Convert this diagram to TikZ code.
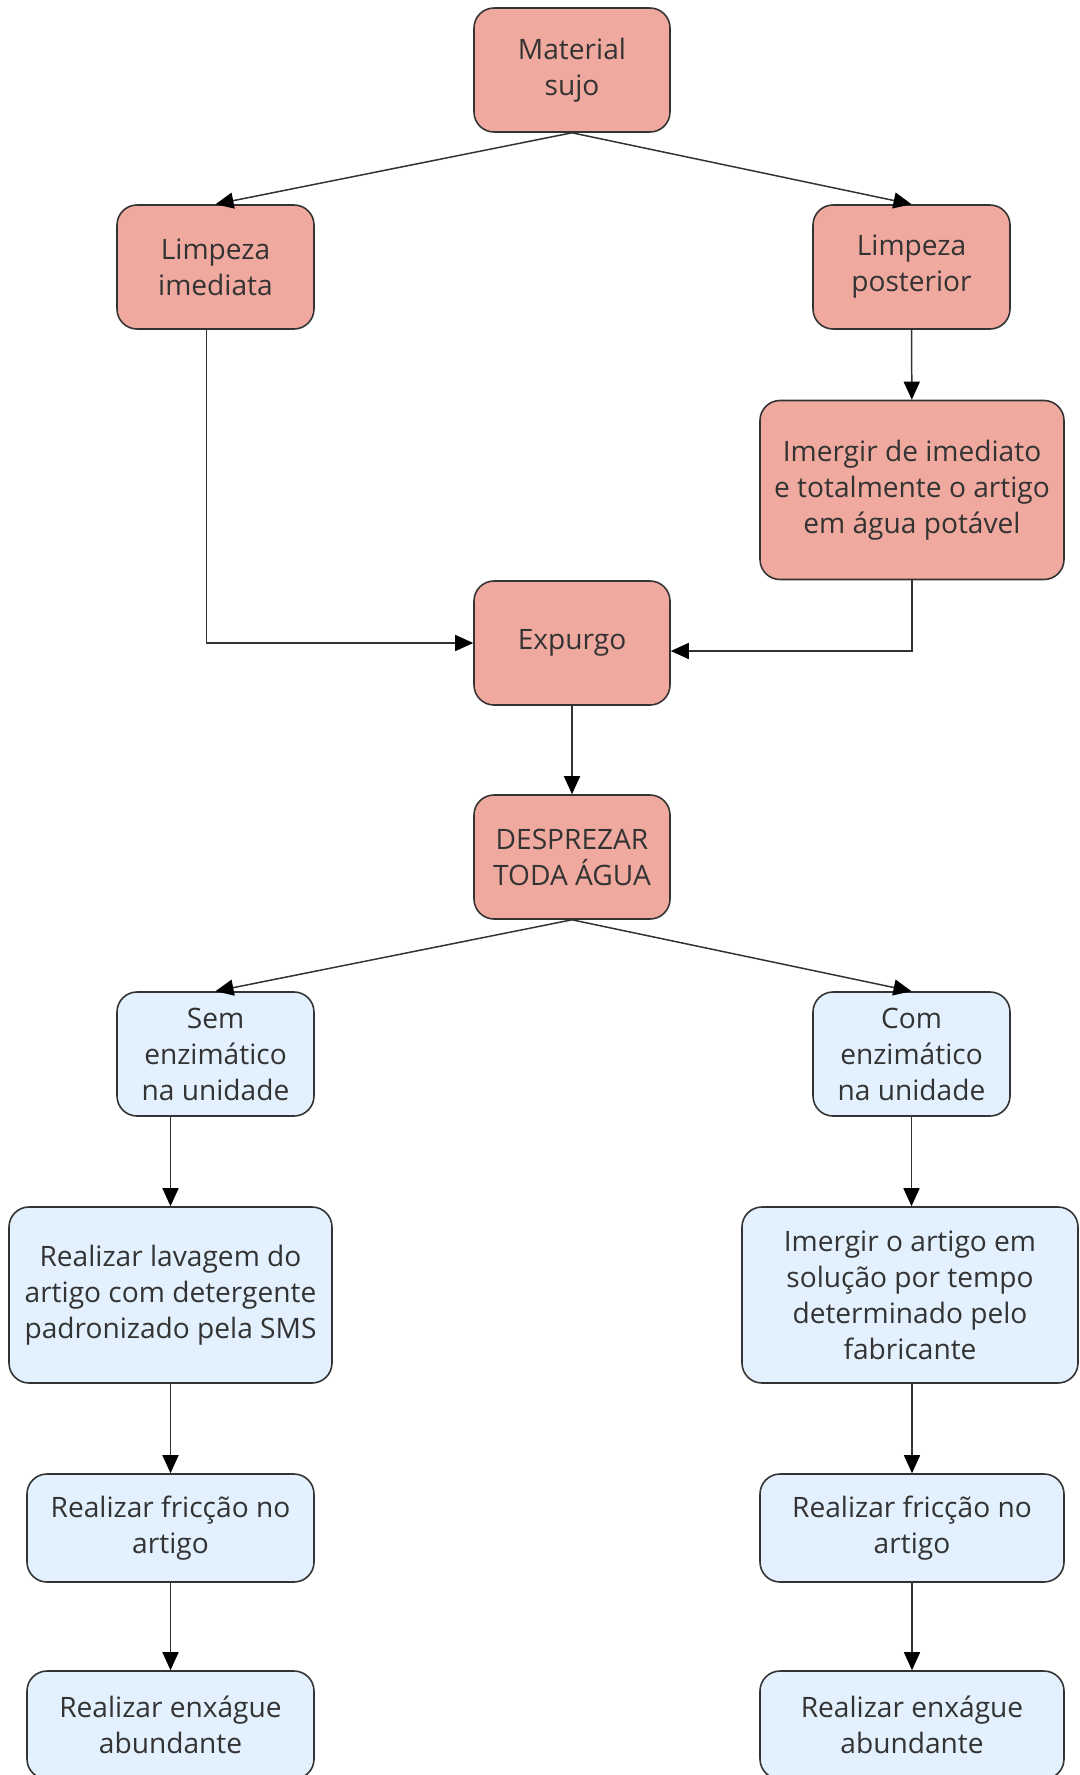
\documentclass[tikz,border=0pt]{standalone}
\usepackage{fontspec}
\setmainfont{Open Sans}
\usepackage{tikz}
\usetikzlibrary{arrows.meta}

\definecolor{salmao}{RGB}{240,169,159}
\definecolor{azulclaro}{RGB}{227,240,253}
\definecolor{borda}{RGB}{51,51,51}

\begin{document}
\begin{tikzpicture}[
  caixa/.style={draw=borda, line width=0.9pt, rounded corners=0.4cm, align=center,
    text=borda, font=\fontsize{16}{20.5}\selectfont, inner sep=0pt},
  rosa/.style={caixa, fill=salmao},
  azul/.style={caixa, fill=azulclaro},
  seta/.style={draw=borda, line width=0.85pt, -{Triangle[length=0.36cm,width=0.32cm,color=black]}}
]
\useasboundingbox (0,0) rectangle (21.6,-35.5);

% etapas iniciais
\node[rosa, minimum width=3.92cm, minimum height=2.48cm] (mat) at (11.44,-1.40) {Material\\sujo};
\node[rosa, minimum width=3.94cm, minimum height=2.48cm] (limi) at (4.31,-5.34) {Limpeza\\imediata};
\node[rosa, minimum width=3.94cm, minimum height=2.48cm] (limp) at (18.23,-5.34) {Limpeza\\posterior};
\node[rosa, minimum width=6.08cm, minimum height=3.58cm] (imer) at (18.24,-9.80) {Imergir de imediato\\e totalmente o artigo\\em água potável};
\node[rosa, minimum width=3.92cm, minimum height=2.48cm] (exp) at (11.44,-12.86) {Expurgo};
\node[rosa, minimum width=3.92cm, minimum height=2.48cm] (desp) at (11.44,-17.14) {DESPREZAR\\TODA ÁGUA};

% ramo sem enzimatico
\node[azul, minimum width=3.94cm, minimum height=2.48cm] (sem) at (4.31,-21.08) {Sem\\enzimático\\na unidade};
\node[azul, minimum width=6.46cm, minimum height=3.52cm] (lav) at (3.41,-25.90) {Realizar lavagem do\\artigo com detergente\\padronizado pela SMS};
\node[azul, minimum width=5.74cm, minimum height=2.16cm] (fricl) at (3.41,-30.56) {Realizar fricção no\\artigo};
\node[azul, minimum width=5.74cm, minimum height=2.16cm] (enxl) at (3.41,-34.50) {Realizar enxágue\\abundante};

% ramo com enzimatico
\node[azul, minimum width=3.94cm, minimum height=2.48cm] (com) at (18.23,-21.08) {Com\\enzimático\\na unidade};
\node[azul, minimum width=6.72cm, minimum height=3.52cm] (imart) at (18.20,-25.90) {Imergir o artigo em\\solução por tempo\\determinado pelo\\fabricante};
\node[azul, minimum width=6.08cm, minimum height=2.16cm] (fricr) at (18.24,-30.56) {Realizar fricção no\\artigo};
\node[azul, minimum width=6.08cm, minimum height=2.16cm] (enxr) at (18.24,-34.50) {Realizar enxágue\\abundante};

% ligacoes
\draw[seta] (mat.south) -- (limi.north);
\draw[seta] (mat.south) -- (limp.north);
\draw[seta] (limp) -- (imer);
\draw[seta] ([xshift=-0.18cm]limi.south) |- (exp.west);
\draw[seta] (imer.south) |- ([yshift=-0.16cm]exp.east);
\draw[seta] (exp) -- (desp);
\draw[seta] (desp.south) -- (sem.north);
\draw[seta] (desp.south) -- (com.north);
\draw[seta] (lav.north |- sem.south) -- (lav.north);
\draw[seta] (lav) -- (fricl);
\draw[seta] (fricl) -- (enxl);
\draw[seta] (com) -- (com |- imart.north);
\draw[seta] (imart.south -| fricr) -- (fricr);
\draw[seta] (fricr) -- (enxr);
\end{tikzpicture}
\end{document}
